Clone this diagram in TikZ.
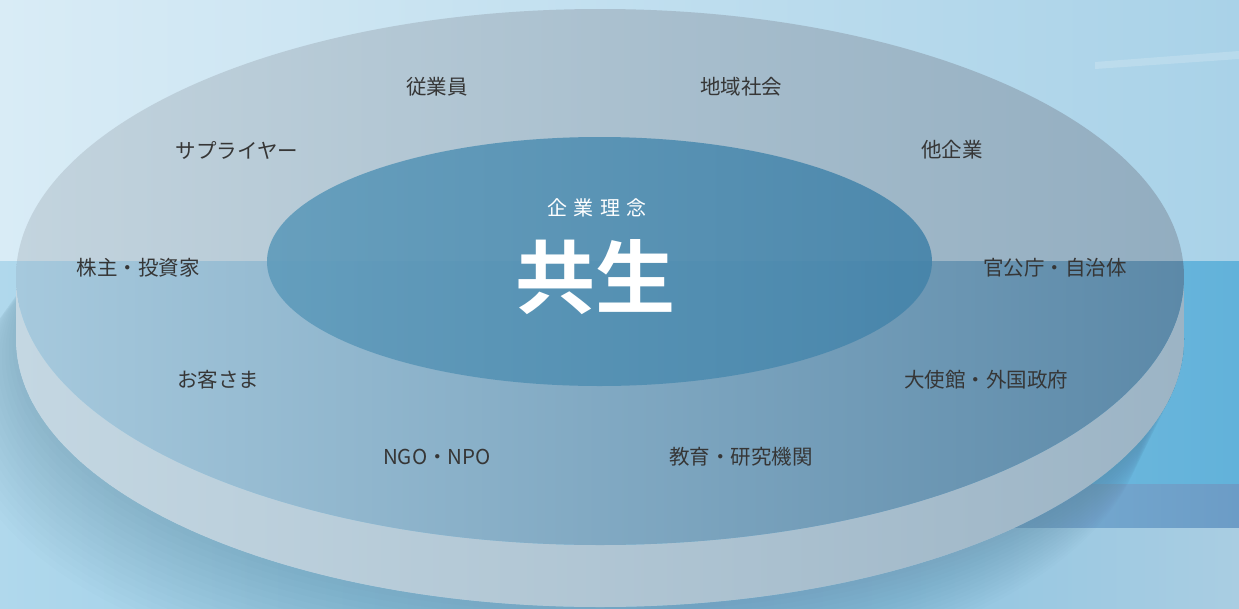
\documentclass[tikz,border=0pt]{standalone}
\usepackage{fontspec}
\setmainfont{Noto Sans CJK JP}[BoldFont={Noto Sans CJK JP Bold}]
\newfontfamily\spacedfont{Noto Sans CJK JP}[LetterSpace=32]
\newlength{\du}
\setlength{\du}{1pt}
\definecolor{skyleft}{HTML}{D9ECF6}
\definecolor{skymid}{HTML}{CFE6F2}
\definecolor{skyright}{HTML}{A9D2E8}
\definecolor{sealeft}{HTML}{B0D8EC}
\definecolor{seamid}{HTML}{84C2E2}
\definecolor{searight}{HTML}{62B2DA}
\definecolor{seabandright}{HTML}{6C9CC6}
\definecolor{seabottomright}{HTML}{A9CDE2}
\definecolor{shadowcolor}{HTML}{3F5E76}
\definecolor{sideleft}{HTML}{C4D7E2}
\definecolor{sidemid}{HTML}{D0E3EE}
\definecolor{sideright}{HTML}{9CB4C5}
\definecolor{upperleft}{HTML}{C3D4DE}
\definecolor{uppermid}{HTML}{D2E4EE}
\definecolor{upperright}{HTML}{92ADC0}
\definecolor{lowerleft}{HTML}{A6C9DD}
\definecolor{lowermid}{HTML}{9CBCD0}
\definecolor{lowerright}{HTML}{5C89A8}
\definecolor{coreleft}{HTML}{5F9BBB}
\definecolor{coreright}{HTML}{4584AA}
\definecolor{labelgray}{HTML}{363636}
\tikzset{
  stakeholder/.style={text=labelgray, inner sep=0pt, font=\fontsize{20.5}{24}\selectfont},
  coretext/.style={text=white, inner sep=0pt},
}

\begin{document}
\begin{tikzpicture}
\pgftransformyscale{-1.000000}
\useasboundingbox (0\du,0\du) rectangle (1239\du,608\du);
% sky and sea
\shade[left color=skyleft, middle color=skymid, right color=skyright] (0\du,0\du) rectangle (1239\du,261\du);
\fill[white, opacity=0.18] (1095\du,62\du) -- (1239\du,51\du) -- (1239\du,59\du) -- (1095\du,69\du) -- cycle;
\shade[left color=sealeft, right color=searight] (0\du,261\du) rectangle (1239\du,608\du);
\shade[left color=seamid, right color=seabandright] (700\du,484\du) rectangle (1239\du,528\du);
\shade[left color=seamid, right color=seabottomright] (700\du,528\du) rectangle (1239\du,608\du);
% shadow under the disc
\foreach \k in {1,...,16}
  \fill[shadowcolor, opacity=0.016, even odd rule]
    ({(600-3*\k)*\du},{(339+5*\k)*\du}) ellipse [x radius={(584+0.5*\k)*\du}, y radius={(268+0.5*\k)*\du}]
    (600\du,339\du) ellipse [x radius=584\du, y radius=268\du];
% side of the disc
\shade[left color=sideleft, middle color=sidemid, right color=sideright]
  (16\du,277\du) -- (16\du,339\du)
  arc [start angle=180, end angle=0, x radius=584\du, y radius=268\du]
  -- (1184\du,277\du)
  arc [start angle=0, end angle=180, x radius=584\du, y radius=268\du] -- cycle;
% top of the disc, above and below the horizon
\begin{scope}
\clip (600\du,277\du) ellipse [x radius=584\du, y radius=268\du];
\shade[left color=upperleft, middle color=uppermid, right color=upperright] (16\du,0\du) rectangle (1184\du,261\du);
\shade[left color=lowerleft, middle color=lowermid, right color=lowerright] (16\du,261\du) rectangle (1184\du,608\du);
\end{scope}
% core
\shade[left color=coreleft, right color=coreright, opacity=0.9]
  (599.5\du,261.5\du) ellipse [x radius=332.5\du, y radius=124.5\du];
\node[coretext, font=\spacedfont\fontsize{20}{24}\selectfont] (philosophy) at (597\du,208\du) {企業理念};
\node[coretext, font=\fontsize{80}{84}\selectfont\bfseries] (kyosei) at (595\du,277\du) {共生};
% stakeholders
\node[stakeholder] (employee) at (437\du,87\du) {従業員};
\node[stakeholder] (community) at (741\du,87\du) {地域社会};
\node[stakeholder] (supplier) at (237\du,150\du) {サプライヤー};
\node[stakeholder] (company) at (952\du,150\du) {他企業};
\node[stakeholder] (investor) at (138\du,268\du) {株主・投資家};
\node[stakeholder] (government) at (1055\du,268\du) {官公庁・自治体};
\node[stakeholder] (customer) at (218\du,380\du) {お客さま};
\node[stakeholder] (embassy) at (986\du,380\du) {大使館・外国政府};
\node[stakeholder] (ngo) at (437\du,457\du) {NGO・NPO};
\node[stakeholder] (academia) at (741\du,457\du) {教育・研究機関};
\end{tikzpicture}
\end{document}
